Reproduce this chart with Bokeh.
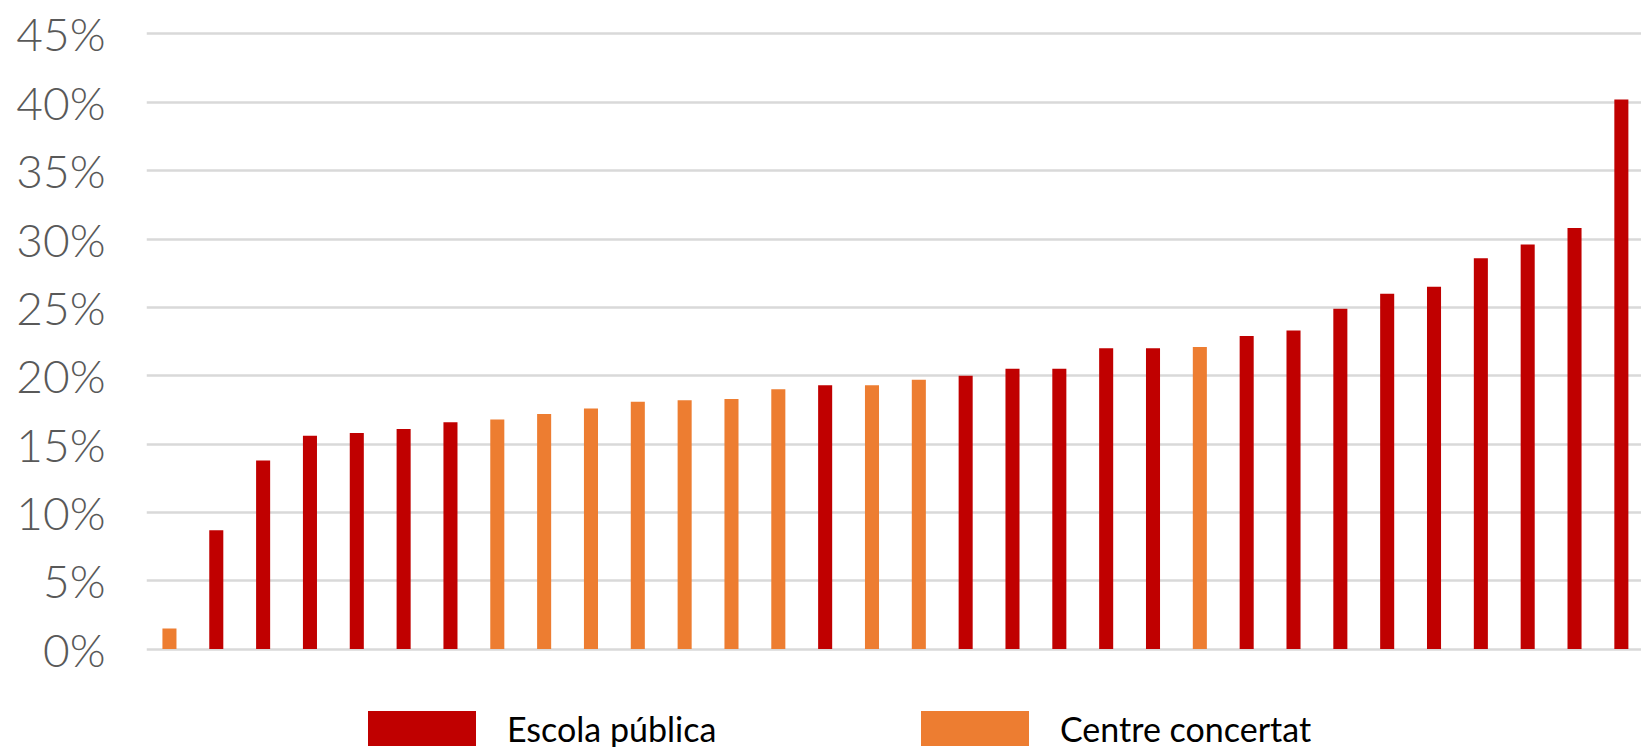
from bokeh.plotting import figure
from bokeh.models import ColumnDataSource, Legend, LegendItem, Range1d, FixedTicker
from bokeh.embed import file_html
from bokeh.resources import INLINE

# ---- data ----
positions = list(range(1, 33))
values = [1.5, 8.7, 13.8, 15.6, 15.8, 16.1, 16.6, 16.8, 17.2, 17.6, 18.1, 18.2,
          18.3, 19.0, 19.3, 19.3, 19.7, 20.0, 20.5, 20.5, 22.0, 22.0, 22.1, 22.9,
          23.3, 24.9, 26.0, 26.5, 28.6, 29.6, 30.8, 40.2]
types = ["C", "P", "P", "P", "P", "P", "P", "C", "C", "C", "C", "C",
         "C", "C", "P", "C", "C", "P", "P", "P", "P", "P", "C", "P",
         "P", "P", "P", "P", "P", "P", "P", "P"]
series_names = {"P": "Escola pública", "C": "Centre concertat"}
series_colors = {"P": "#C00000", "C": "#ED7D31"}
tick_values = [0, 5, 10, 15, 20, 25, 30, 35, 40, 45]
tick_labels = ["0%", "5%", "10%", "15%", "20%", "25%", "30%", "35%", "40%", "45%"]

p = figure(output_backend="svg", toolbar_location=None,
           x_range=Range1d(0.51, 32.43), y_range=Range1d(-7.2, 45.4),
           x_axis_location=None, min_border_left=146, min_border_right=0,
           min_border_top=28, min_border_bottom=0)
p.frame_width = 1495
p.frame_height = 719
p.outline_line_color = None
p.background_fill_color = "white"
p.border_fill_color = "white"

renderers = {}
for key in ["P", "C"]:
    xs = [x for x, t in zip(positions, types) if t == key]
    ys = [v for v, t in zip(values, types) if t == key]
    src = ColumnDataSource(dict(x=xs, top=ys))
    renderers[key] = p.vbar(x="x", top="top", bottom=0, width=0.3, source=src,
                            fill_color=series_colors[key], line_color=None)

p.xgrid.grid_line_color = None
p.ygrid.grid_line_color = "#D9D9D9"
p.ygrid.grid_line_width = 2.5
p.yaxis.ticker = FixedTicker(ticks=tick_values)
p.yaxis.major_label_overrides = {v: l for v, l in zip(tick_values, tick_labels)}
p.yaxis.axis_line_color = None
p.yaxis.major_tick_line_color = None
p.yaxis.minor_tick_line_color = None
p.yaxis.major_tick_out = 0
p.yaxis.major_tick_in = 0
p.yaxis.major_label_standoff = 41
p.yaxis.major_label_text_font = "Lato Light"
p.yaxis.major_label_text_font_size = "46px"
p.yaxis.major_label_text_color = "#595959"

legend = Legend(items=[LegendItem(label=series_names[k], renderers=[renderers[k]]) for k in ["P", "C"]],
                orientation="horizontal", location=(208, -3),
                glyph_width=135, glyph_height=44, label_standoff=18, label_width=400,
                label_height=44, spacing=0, padding=0, margin=0,
                border_line_color=None, background_fill_alpha=0,
                label_text_font="Lato", label_text_font_size="34px",
                label_text_color="black")
p.add_layout(legend)

open("out.html", "w").write(file_html(p, INLINE))
